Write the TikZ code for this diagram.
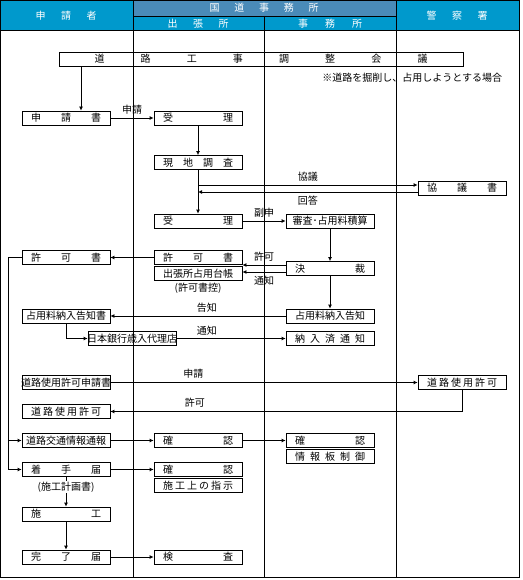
\documentclass[tikz,border=0pt]{standalone}
\usepackage{fontspec}
\setmainfont{Noto Sans CJK JP}
\usetikzlibrary{positioning,arrows.meta}

\definecolor{headblue}{HTML}{0099CC}
\definecolor{bandblue}{HTML}{4A8BB8}

\newcommand{\wide}[1]{\makebox[70pt][s]{#1}}

\begin{document}
\begin{tikzpicture}[x=1pt, y=-1pt, >={Latex[length=4pt,width=4pt]}, line width=0.8pt,
  font=\fontsize{10}{12}\selectfont,
  box/.style={draw, rectangle, minimum width=88pt, minimum height=14pt, inner sep=0pt},
  head/.style={text=white, inner sep=0pt}]
\useasboundingbox (0,0) rectangle (522,580);

% header and columns
\fill[headblue] (0.5,0.5) rectangle (519.5,30);
\fill[bandblue] (133,0.5) rectangle (396,16);
\draw (0.5,0.5) rectangle (519.5,577);
\draw (0.5,30) -- (519.5,30);
\draw (133,16) -- (396,16);
\draw (133,0.5) -- (133,577);
\draw (264,16) -- (264,577);
\draw (396,0.5) -- (396,577);

\node[head] (hA) at (66,16) {\makebox[61pt][s]{申 請 者}};
\node[head] (hB) at (264,8) {\makebox[109pt][s]{国 道 事 務 所}};
\node[head] (hB1) at (198,23.5) {\makebox[61pt][s]{出 張 所}};
\node[head] (hB2) at (330,23.5) {\makebox[64pt][s]{事 務 所}};
\node[head] (hD) at (457,16) {\makebox[61pt][s]{警 察 署}};

% boxes
\node[box, minimum width=404pt] (kaigi) at (261,59) {\makebox[333pt][s]{道 路 工 事 調 整 会 議}};
\node[anchor=west, inner sep=0pt] (note) at (322,78) {※道路を掘削し、占用しようとする場合};
\coordinate (drop) at (81,0);

\node[box] (shinseisho) at (66,118) {\wide{申 請 書}};
\node[box] (juri) at (198,118) {\wide{受 理}};
\node[box] (genchi) at (198,162.5) {\wide{現 地 調 査}};
\node[box] (kyogisho) at (462,188) {\wide{協 議 書}};
\node[box] (juri2) at (198,221) {\wide{受 理}};
\node[box] (shinsa) at (330,221) {審査･占用料積算};
\node[box] (kyokaA) at (66,257.5) {\wide{許 可 書}};
\node[box] (kyokaB) at (198,257.5) {\wide{許 可 書}};
\node[box, below=1pt of kyokaB] (daicho) {出張所占用台帳};
\node[below=2pt of daicho, inner sep=0pt] (hikae) {(許可書控)};
\node[box] (kessai) at (330,268.5) {\wide{決 裁}};
\node[box] (kokuchisho) at (66,316) {占用料納入告知書};
\node[box] (kokuchi) at (330,316) {占用料納入告知};
\node[box] (ginko) at (132,338.5) {\makebox[88pt]{日本銀行歳入代理店}};
\node[box] (nonyu) at (330,338.5) {\wide{納 入 済 通 知}};
\node[box] (shiyoshinsei) at (66,382.5) {\makebox[88pt]{道路使用許可申請書}};
\node[box] (shiyoR) at (462,382.5) {\wide{道 路 使 用 許 可}};
\node[box] (shiyoL) at (66,411.5) {\wide{道 路 使 用 許 可}};
\node[box] (tsuho) at (66,440.5) {道路交通情報通報};
\node[box] (kakunin) at (198,440.5) {\wide{確 認}};
\node[box] (kakunin2) at (330,440.5) {\wide{確 認}};
\node[box, below=1pt of kakunin2] (johoban) {\wide{情 報 板 制 御}};
\node[box] (chakushu) at (66,469.5) {\wide{着 手 届}};
\node[box] (kakunin3) at (198,469.5) {\wide{確 認}};
\node[box, below=1pt of kakunin3] (shiji) {\wide{施 工 上 の 指 示}};
\node[box] (seko) at (66,514) {\wide{施 工}};
\node[box] (kanryo) at (66,557) {\wide{完 了 届}};
\node[box] (kensa) at (198,557) {\wide{検 査}};

% connectors
\draw[->] (kaigi.south -| drop) -- (shinseisho.north -| drop);
\draw[->] (shinseisho) -- node[above] {申請} (juri);
\draw[->] (juri) -- (genchi);
\draw[->] (genchi.south) |- node[above, pos=0.75] {協議} ([yshift=3pt]kyogisho.west);
\draw[->] ([yshift=-4pt]kyogisho.west) -- node[below] {回答} ([yshift=-4pt]kyogisho.west -| genchi.south);
\draw[->] (genchi) -- (juri2);
\draw[->] (juri2) -- node[above] {副申} (shinsa);
\draw[->] (shinsa) -- (kessai);
\draw[->] ([yshift=3.5pt]kessai.west) -- node[above] {許可} ([yshift=3.5pt]kessai.west -| daicho.east);
\draw[->] ([yshift=-3.5pt]kessai.west) -- node[below] {通知} ([yshift=-3.5pt]kessai.west -| daicho.east);
\draw[->] (kyokaB) -- (kyokaA);
\coordinate (rail) at (8,0);
\draw[->] (kyokaA.west) -- (kyokaA.west -| rail) |- (chakushu.west);
\draw[->] (tsuho.west -| rail) -- (tsuho.west);
\draw[->] (kessai) -- (kokuchi);
\draw[->] (kokuchi) -- node[above, pos=0.45] {告知} (kokuchisho);
\draw[->] (kokuchisho.south) |- (ginko.west);
\draw[->] (ginko) -- node[above, pos=0.28] {通知} (nonyu);
\draw[->] (shiyoshinsei) -- node[above, pos=0.27] {申請} (shiyoR);
\draw[->] (shiyoR.south) |- node[above, pos=0.88] {許可} (shiyoL);
\draw[->] (tsuho) -- (kakunin);
\draw[->] (kakunin) -- (kakunin2);
\draw[->] (chakushu) -- (kakunin3);
\draw[->] (chakushu) -- node[fill=white, inner sep=1pt, pos=0.35] {(施工計画書)} (seko);
\draw[->] (seko) -- (kanryo);
\draw[->] (kanryo) -- (kensa);
\end{tikzpicture}
\end{document}
